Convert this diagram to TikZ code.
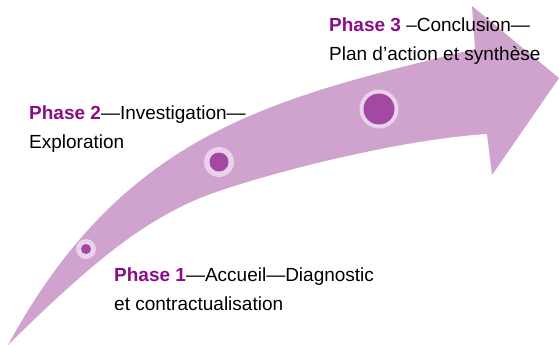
\documentclass[tikz,border=0pt]{standalone}
\usepackage{fontspec}
\setmainfont{Liberation Sans}
\definecolor{arrowfill}{RGB}{208,163,207}
\definecolor{dotfill}{RGB}{163,73,163}
\definecolor{ringfill}{RGB}{234,210,234}
\definecolor{phasecol}{RGB}{139,12,135}
\tikzset{
  lbl/.style={anchor=base west, inner sep=0pt, font=\fontsize{19}{28.5}\selectfont, text=black},
  ring/.style={circle, fill=ringfill, inner sep=0pt},
  dot/.style={circle, fill=dotfill, inner sep=0pt}
}
\newcommand{\ph}[1]{\textcolor{phasecol}{\textbf{#1}}}
\begin{document}
\begin{tikzpicture}[x=1pt,y=-1pt]
\useasboundingbox (0,0) rectangle (559,345);
% arrow
\fill[arrowfill] (8,345) .. controls (125,130) and (275,98) .. (475,49)
  -- (472,6) -- (559,78) -- (492,175) -- (487,134)
  .. controls (392,140) and (250,178) .. (200,198)
  .. controls (140,223) and (88,266) .. (8,345) -- cycle;
% milestones
\node[ring, minimum size=20pt] (r1) at (86,249) {};
\node[dot, minimum size=10pt] (d1) at (r1) {};
\node[ring, minimum size=30pt] (r2) at (219,162) {};
\node[dot, minimum size=19pt] (d2) at (r2) {};
\node[ring, minimum size=39pt] (r3) at (379,109) {};
\node[dot, minimum size=31pt] (d3) at (r3) {};
% labels
\node[lbl] (p3a) at (329,32) {\ph{Phase 3} –Conclusion—};
\node[lbl] (p3b) at (329,60) {Plan d’action et synthèse};
\node[lbl] (p2a) at (29,119) {\ph{Phase 2}—Investigation—};
\node[lbl] (p2b) at (29,148) {Exploration};
\node[lbl] (p1a) at (114,281) {\ph{Phase 1}—Accueil—Diagnostic};
\node[lbl] (p1b) at (114,310) {et contractualisation};
\end{tikzpicture}
\end{document}
